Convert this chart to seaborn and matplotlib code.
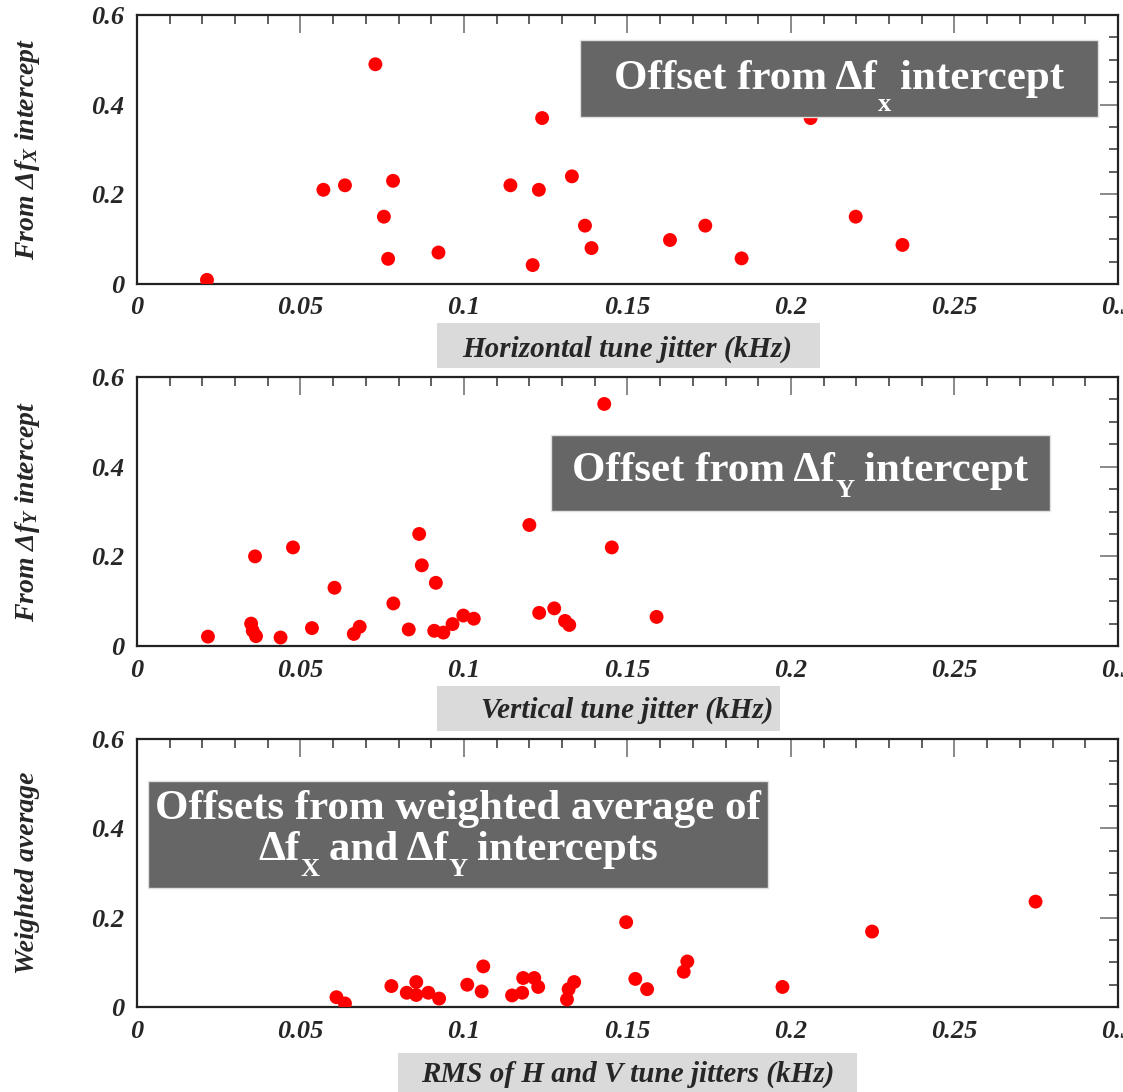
import numpy as np
import pandas as pd
import seaborn as sns
import matplotlib.pyplot as plt
from matplotlib.patches import Rectangle
from matplotlib.ticker import MultipleLocator, FuncFormatter
from matplotlib.transforms import ScaledTranslation

# panel 1: offset from horizontal intercept
h_jitter = [0.0214, 0.057, 0.0636, 0.0729, 0.0783, 0.0755, 0.0768, 0.0922, 0.1142, 0.1229,
            0.1239, 0.121, 0.133, 0.137, 0.139, 0.163, 0.1738, 0.1849, 0.206, 0.2198, 0.2341]
h_offset = [0.009, 0.21, 0.22, 0.49, 0.23, 0.15, 0.056, 0.07, 0.22, 0.21,
            0.37, 0.042, 0.24, 0.13, 0.08, 0.098, 0.13, 0.057, 0.37, 0.15, 0.087]

# panel 2: offset from vertical intercept
v_jitter = [0.0217, 0.0349, 0.0354, 0.0364, 0.0361, 0.0439, 0.0477, 0.0535, 0.0604, 0.0663,
            0.0681, 0.0784, 0.0831, 0.0863, 0.0871, 0.0914, 0.0909, 0.0937, 0.0965, 0.0998,
            0.103, 0.12, 0.123, 0.1276, 0.1309, 0.1322, 0.1429, 0.1452, 0.1589]
v_offset = [0.021, 0.05, 0.034, 0.022, 0.20, 0.019, 0.22, 0.04, 0.13, 0.027,
            0.043, 0.095, 0.037, 0.25, 0.18, 0.141, 0.034, 0.03, 0.049, 0.068,
            0.061, 0.27, 0.074, 0.084, 0.056, 0.047, 0.54, 0.22, 0.065]

# panel 3: weighted average
rms_jitter = [0.061, 0.0636, 0.0778, 0.0825, 0.0854, 0.0854, 0.0891, 0.0924, 0.101, 0.1059,
              0.1054, 0.1147, 0.1178, 0.1181, 0.1215, 0.1227, 0.1315, 0.132, 0.1337, 0.1496,
              0.1524, 0.156, 0.1672, 0.1683, 0.1974, 0.2248, 0.2748]
avg_offset = [0.022, 0.008, 0.047, 0.032, 0.056, 0.027, 0.032, 0.019, 0.05, 0.091,
              0.035, 0.026, 0.032, 0.065, 0.065, 0.045, 0.017, 0.04, 0.056, 0.19,
              0.063, 0.04, 0.079, 0.102, 0.045, 0.169, 0.236]

sns.set_style('white')
plt.rcParams['font.family'] = ['Liberation Serif', 'DejaVu Serif']
plt.rcParams['font.style'] = 'italic'
plt.rcParams['font.weight'] = 'bold'
plt.rcParams['axes.labelweight'] = 'bold'
plt.rcParams['mathtext.fontset'] = 'custom'
plt.rcParams['mathtext.default'] = 'regular'

fig = plt.figure(figsize=(11.23, 10.92), dpi=100)
renderer = fig.canvas.get_renderer()

MAIN_SIZE = 31
SUB_SIZE = 19


def box_line(ax, parts, x, y, drop):
    """white bold text with lowered subscripts, centred on (x, y) in axes coords"""
    kw = dict(color='white', fontstyle='normal', fontweight='bold')
    widths = []
    for txt, sub in parts:
        t = fig.text(0, 0, txt, fontsize=SUB_SIZE if sub else MAIN_SIZE, **kw)
        widths.append(t.get_window_extent(renderer).width)
        t.remove()
    gaps = []
    for i in range(len(parts) - 1):
        if parts[i + 1][1]:
            gaps.append(1)
        elif parts[i][1]:
            gaps.append(9)
        else:
            gaps.append(11)
    total = sum(widths) + sum(gaps)
    cx = -total / 2
    for i, (txt, sub) in enumerate(parts):
        off = ScaledTranslation(cx / 100, (-drop if sub else 0) / 100, fig.dpi_scale_trans)
        ax.text(x, y, txt, transform=ax.transAxes + off, ha='left', va='baseline',
                fontsize=SUB_SIZE if sub else MAIN_SIZE, zorder=5, **kw)
        cx += widths[i] + (gaps[i] if i < len(gaps) else 0)


panels = [
    dict(pos=[0.122, 0.740, 0.8735, 0.2463], x=h_jitter, y=h_offset,
         ylabel='From Δ$f_X$ intercept', xlabel='Horizontal tune jitter (kHz)',
         xbox=(0.3058, -0.312, 0.3904, 0.167), xbase=-0.271,
         box=(0.4516, 0.6208, 0.528, 0.2862), drop=22,
         lines=[([('Offset from Δf', False), ('x', True), ('intercept', False)], 0.7156, 0.725)]),
    dict(pos=[0.122, 0.4084, 0.8735, 0.2463], x=v_jitter, y=v_offset,
         ylabel='From Δ$f_Y$ intercept', xlabel='Vertical tune jitter (kHz)',
         xbox=(0.3058, -0.316, 0.3497, 0.167), xbase=-0.268,
         box=(0.422, 0.502, 0.5087, 0.282), drop=16,
         lines=[([('Offset from Δf', False), ('Y', True), ('intercept', False)], 0.676, 0.6145)]),
    dict(pos=[0.122, 0.0778, 0.8735, 0.2454], x=rms_jitter, y=avg_offset,
         ylabel='Weighted average', xlabel='RMS of H and V tune jitters (kHz)',
         xbox=(0.266, -0.317, 0.468, 0.145), xbase=-0.279,
         box=(0.0112, 0.444, 0.6318, 0.399), drop=16,
         lines=[([('Offsets from weighted average of', False)], 0.327, 0.700),
                ([('Δf', False), ('X', True), ('and Δf', False), ('Y', True),
                  ('intercepts', False)], 0.327, 0.5485)]),
]

fmt = FuncFormatter(lambda v, p: '%g' % round(v, 4))

for p in panels:
    ax = fig.add_axes(p['pos'])
    sns.scatterplot(x=p['x'], y=p['y'], ax=ax, color='#ff0000', s=100,
                    linewidth=0, edgecolor='none', zorder=3)
    ax.set_xlim(0, 0.3)
    ax.set_ylim(0, 0.6)
    ax.xaxis.set_major_locator(MultipleLocator(0.05))
    ax.xaxis.set_minor_locator(MultipleLocator(0.01))
    ax.yaxis.set_major_locator(MultipleLocator(0.2))
    ax.yaxis.set_minor_locator(MultipleLocator(0.05))
    ax.xaxis.set_major_formatter(fmt)
    ax.yaxis.set_major_formatter(fmt)
    ax.tick_params(which='both', direction='in', top=True, right=True)
    ax.tick_params(which='major', length=13, width=1.3, color='#808080',
                   labelsize=19, pad=9)
    ax.tick_params(which='minor', length=6.5, width=1.1, color='#333333')
    for s in ax.spines.values():
        s.set_linewidth(1.6)
        s.set_color('#222222')

    ax.set_ylabel(p['ylabel'], fontsize=20, fontweight='bold')
    ax.yaxis.label.set_verticalalignment('center')
    ax.yaxis.set_label_coords(-0.112, 0.5)

    # grey label background
    bx, by, bw, bh = p['xbox']
    ax.add_patch(Rectangle((bx, by), bw, bh, transform=ax.transAxes,
                           facecolor='#dadada', edgecolor='none', clip_on=False,
                           zorder=0.1))
    ax.set_xlabel(p['xlabel'], fontsize=21, fontweight='bold')
    ax.xaxis.label.set_verticalalignment('baseline')
    ax.xaxis.set_label_coords(0.5, p['xbase'])

    # dark annotation box
    rx, ry, rw, rh = p['box']
    ax.add_patch(Rectangle((rx, ry), rw, rh, transform=ax.transAxes,
                           facecolor='#666666', edgecolor='#e0e0e0', linewidth=1,
                           zorder=4))
    for parts, tx, ty in p['lines']:
        box_line(ax, parts, tx, ty, p['drop'])

fig.savefig('out.png', dpi=100)
